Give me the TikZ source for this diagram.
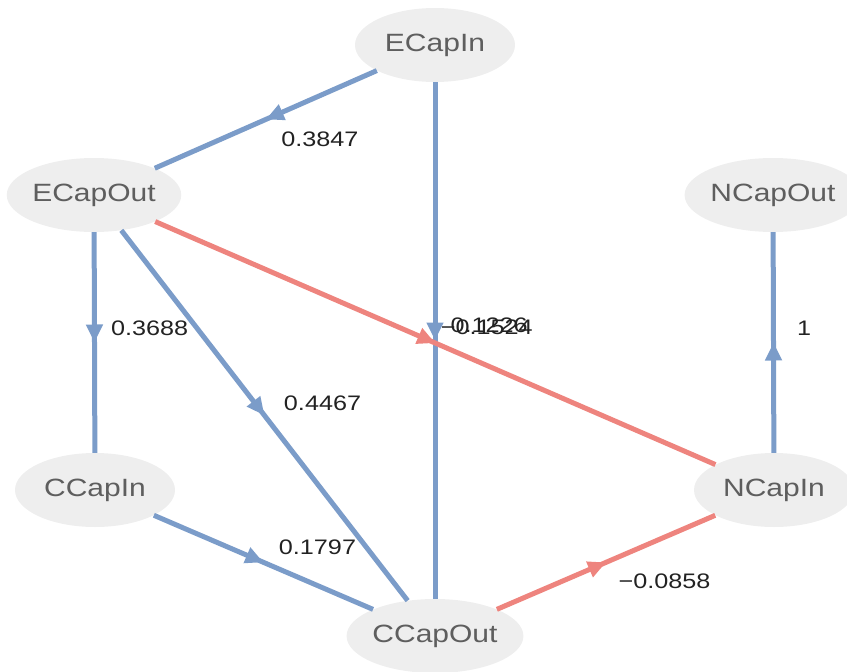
\documentclass[tikz,border=0pt]{standalone}
\usepackage{fontspec}
\setmainfont[FakeStretch=1.2]{Liberation Sans}
\usetikzlibrary{shapes.geometric,arrows.meta,decorations.markings}
\definecolor{nodefill}{HTML}{EEEEEE}
\definecolor{nodetext}{HTML}{5E5E5E}
\definecolor{edgeblue}{HTML}{7B9CC9}
\definecolor{edgered}{HTML}{EE847E}
\definecolor{labeltext}{HTML}{222222}
\begin{document}
\begin{tikzpicture}[x=1pt,y=-1pt,
  vtx/.style={ellipse, fill=nodefill, minimum width=160pt, minimum height=74pt, inner sep=0pt,
    font=\fontsize{25}{28}\selectfont, text=nodetext},
  wedge/.style={line width=5pt, postaction={decorate},
    decoration={markings, mark=at position 0.5 with {\arrow{Triangle[length=18pt,width=16pt]}}}},
  blueedge/.style={wedge, color=edgeblue},
  rededge/.style={wedge, color=edgered},
  elabel/.style={anchor=west, font=\fontsize{21}{24}\selectfont, text=labeltext, inner sep=0pt}]
\useasboundingbox (0,0) rectangle (847,672);
\node[vtx] (ECapIn)  at (435,45)  {ECapIn};
\node[vtx] (ECapOut) at (94,195)  {ECapOut};
\node[vtx] (NCapOut) at (773,195) {NCapOut};
\node[vtx] (CCapIn)  at (95,490)  {CCapIn};
\node[vtx] (NCapIn)  at (774,490) {NCapIn};
\node[vtx] (CCapOut) at (435,636) {CCapOut};

\draw[blueedge] (ECapIn) -- (ECapOut)
  node[elabel, pos=0.5, xshift=13pt, yshift=-20pt] (l1) {0.3847};
\draw[blueedge] (ECapIn) -- (CCapOut)
  node[elabel, pos=0.5, xshift=13pt, yshift=15pt] (l2) {0.1226};
\draw[blueedge] (ECapOut) -- (CCapIn)
  node[elabel, pos=0.5, xshift=14pt, yshift=14pt] (l3) {0.3688};
\draw[blueedge] (ECapOut) -- (CCapOut)
  node[elabel, pos=0.5, xshift=17pt, yshift=12pt] (l4) {0.4467};
\draw[blueedge] (CCapIn) -- (CCapOut)
  node[elabel, pos=0.5, xshift=13pt, yshift=15pt] (l5) {0.1797};
\draw[rededge] (ECapOut) -- (NCapIn)
  node[elabel, pos=0.5, xshift=3pt, yshift=16pt] (l6) {−0.1524};
\draw[rededge] (CCapOut) -- (NCapIn)
  node[elabel, pos=0.5, xshift=10pt, yshift=-19pt] (l7) {−0.0858};
\draw[blueedge] (NCapIn) -- (NCapOut)
  node[elabel, pos=0.5, xshift=21pt, yshift=14pt] (l8) {1};
\end{tikzpicture}
\end{document}
